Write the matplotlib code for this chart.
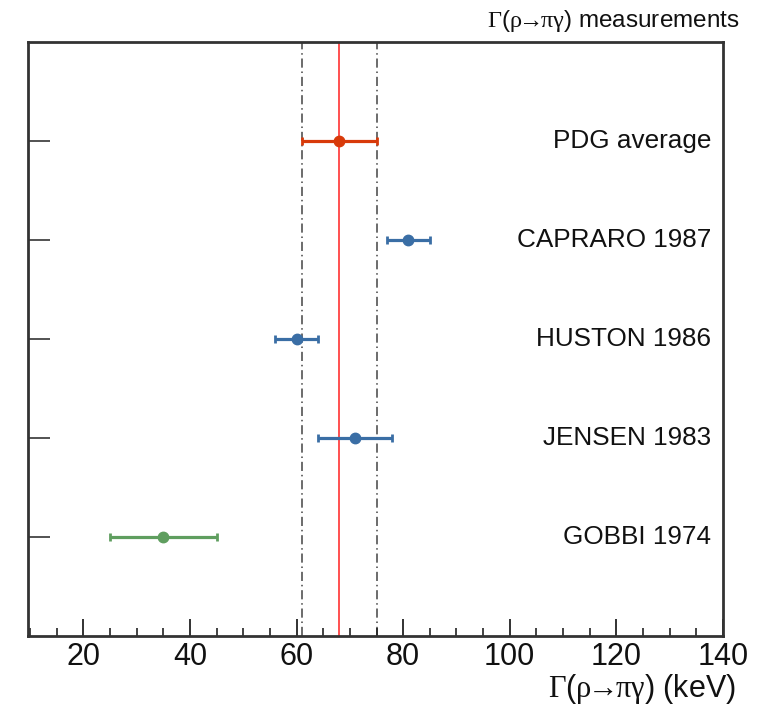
import numpy as np
import matplotlib
matplotlib.use("Agg")
import matplotlib.pyplot as plt
from matplotlib.ticker import MultipleLocator

plt.rcParams['font.family'] = ['Liberation Sans', 'DejaVu Sans']
plt.rcParams['mathtext.fontset'] = 'custom'
plt.rcParams['mathtext.rm'] = 'Liberation Serif'
plt.rcParams['mathtext.it'] = 'Liberation Serif'
plt.rcParams['mathtext.bf'] = 'Liberation Serif'

# measurements, bottom to top
labels = ['GOBBI 1974', 'JENSEN 1983', 'HUSTON 1986', 'CAPRARO 1987', 'PDG average']
values = [35, 71, 60, 81, 68]
errors = [10, 7, 4, 4, 7]
colors = ['#5f9e5f', '#3a6ea5', '#3a6ea5', '#3a6ea5', '#d83a0a']
rows = [1, 2, 3, 4, 5]

pdg_value = 68
pdg_error = 7

decay = r'$\Gamma$($\rho\!\!\rightarrow\!\!\pi\gamma$)'

fig = plt.figure(figsize=(7.66, 7.06), dpi=100)
ax = fig.add_axes([0.0366, 0.0992, 0.9074, 0.8413])

ax.axvline(pdg_value, color='#ff2020', lw=1.1, zorder=1)
for v in (pdg_value - pdg_error, pdg_value + pdg_error):
    ax.axvline(v, color='#444444', lw=1.1, ls=(0, (6, 2.5, 1, 2.5)), zorder=1)

for y, v, e, c, lab in zip(rows, values, errors, colors, labels):
    ax.errorbar(v, y, xerr=e, fmt='o', color=c, ms=7.5, elinewidth=2.3,
                capsize=3, capthick=2, zorder=3)
    ax.text(137.8, y, lab, ha='right', va='center', fontsize=18.8, color='#111111')

ax.set_xlim(9.6, 140.05)
ax.set_ylim(0, 6)
ax.xaxis.set_major_locator(MultipleLocator(20))
ax.xaxis.set_minor_locator(MultipleLocator(5))
ax.set_yticks(rows)
ax.set_yticklabels([])
ax.tick_params(axis='x', which='major', direction='in', length=12, width=1.3,
               labelsize=22, pad=4, colors='#222222', labelcolor='#111111')
ax.tick_params(axis='x', which='minor', direction='in', length=6, width=1.2,
               colors='#222222')
ax.tick_params(axis='y', which='major', direction='in', length=16, width=1.3,
               colors='#444444')
for s in ax.spines.values():
    s.set_linewidth(2)
    s.set_color('#333333')

fig.text(0.966, 0.962, decay + ' measurements',
         ha='right', va='baseline', fontsize=17.5, color='#111111')
fig.text(0.96, 0.013, decay + ' (keV)',
         ha='right', va='baseline', fontsize=22, color='#111111')

fig.savefig('out.png', dpi=100, facecolor='white')
